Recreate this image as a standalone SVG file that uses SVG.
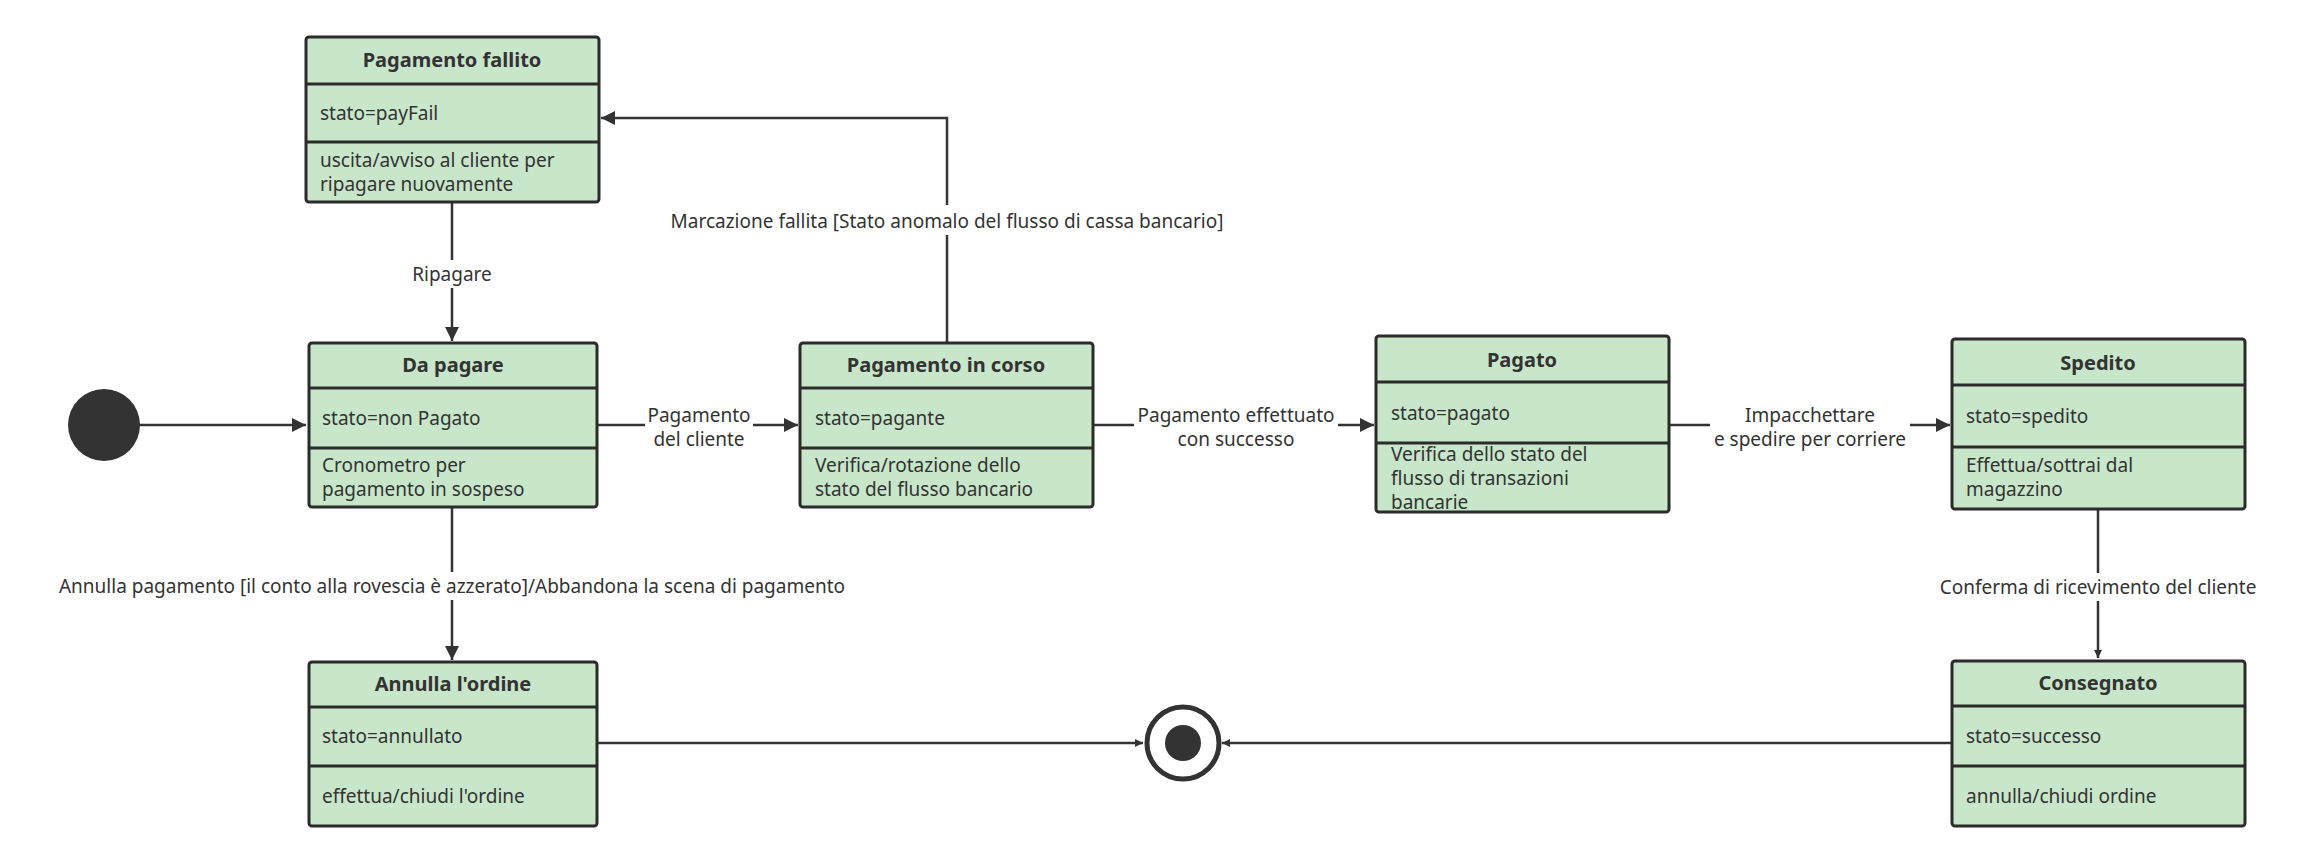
<svg xmlns="http://www.w3.org/2000/svg" width="2303" height="862" viewBox="0 0 2303 862">
<style>
.box{fill:#c8e6c9;stroke:#2b2b2b;stroke-width:3}
.div{stroke:#2b2b2b;stroke-width:3}
text{font-family:"Noto Sans","Open Sans","Liberation Sans",sans-serif;fill:#333;font-size:19px}
.t{font-weight:bold;font-size:20px;text-anchor:middle}
.lbl{text-anchor:middle}
.c{fill:none;stroke:#333;stroke-width:2.5}
</style>
<defs>
<marker id="a" viewBox="0 0 10 10" refX="10" refY="5" markerWidth="8" markerHeight="8" markerUnits="userSpaceOnUse" orient="auto"><path d="M0,0 L10,5 L0,10 z" fill="#333"/></marker>
<marker id="b" viewBox="0 0 10 10" refX="10" refY="5" markerWidth="20" markerHeight="14" markerUnits="userSpaceOnUse" orient="auto"><path d="M0,0 L10,5 L0,10 z" fill="#333"/></marker>
</defs>
<g id="connectors">
<path class="c" d="M139,425 H306" marker-end="url(#b)"/>
<path class="c" d="M597,425 H798" marker-end="url(#b)"/>
<rect x="645" y="398" width="108" height="50" fill="#fff"/>
<text class="lbl" x="699" y="422">Pagamento</text>
<text class="lbl" x="699" y="446">del cliente</text>
<path class="c" d="M947,343 V118 H601" marker-end="url(#b)"/>
<rect x="655" y="205" width="584" height="30" fill="#fff"/>
<text class="lbl" x="947" y="228">Marcazione fallita [Stato anomalo del flusso di cassa bancario]</text>
<path class="c" d="M452,202 V341" marker-end="url(#b)"/>
<rect x="408" y="260" width="88" height="28" fill="#fff"/>
<text class="lbl" x="452" y="281">Ripagare</text>
<path class="c" d="M452,507 V660" marker-end="url(#b)"/>
<rect x="40" y="572" width="826" height="28" fill="#fff"/>
<text class="lbl" x="452" y="593">Annulla pagamento [il conto alla rovescia è azzerato]/Abbandona la scena di pagamento</text>
<path class="c" d="M1093,425 H1374" marker-end="url(#b)"/>
<rect x="1134" y="398" width="204" height="50" fill="#fff"/>
<text class="lbl" x="1236" y="422">Pagamento effettuato</text>
<text class="lbl" x="1236" y="446">con successo</text>
<path class="c" d="M1669,425 H1950" marker-end="url(#b)"/>
<rect x="1710" y="398" width="200" height="50" fill="#fff"/>
<text class="lbl" x="1810" y="422">Impacchettare</text>
<text class="lbl" x="1810" y="446">e spedire per corriere</text>
<path class="c" d="M2098,509 V658" marker-end="url(#a)"/>
<rect x="1932" y="573" width="332" height="28" fill="#fff"/>
<text class="lbl" x="2098" y="594">Conferma di ricevimento del cliente</text>
<path class="c" d="M597,743 H1143" marker-end="url(#a)"/>
<path class="c" d="M1952,743 H1222" marker-end="url(#a)"/>
</g>
<g id="start"><circle cx="104" cy="425" r="36" fill="#333"/></g>
<g id="end"><circle cx="1183" cy="743" r="36" fill="#fff" stroke="#333" stroke-width="5"/><circle cx="1183" cy="743" r="18" fill="#333"/></g>
<g id="n-fallito">
<rect class="box" x="306" y="37" width="293" height="165" rx="3"/>
<line class="div" x1="306" y1="84" x2="599" y2="84"/><line class="div" x1="306" y1="142" x2="599" y2="142"/>
<text class="t" x="452" y="67">Pagamento fallito</text>
<text x="320" y="120">stato=payFail</text>
<text x="320" y="167">uscita/avviso al cliente per</text>
<text x="320" y="191">ripagare nuovamente</text>
</g>
<g id="n-dapagare">
<rect class="box" x="309" y="343" width="288" height="164" rx="3"/>
<line class="div" x1="309" y1="388" x2="597" y2="388"/><line class="div" x1="309" y1="448" x2="597" y2="448"/>
<text class="t" x="453" y="372">Da pagare</text>
<text x="322" y="425">stato=non Pagato</text>
<text x="322" y="472">Cronometro per</text>
<text x="322" y="496">pagamento in sospeso</text>
</g>
<g id="n-incorso">
<rect class="box" x="800" y="343" width="293" height="164" rx="3"/>
<line class="div" x1="800" y1="388" x2="1093" y2="388"/><line class="div" x1="800" y1="448" x2="1093" y2="448"/>
<text class="t" x="946" y="372">Pagamento in corso</text>
<text x="815" y="425">stato=pagante</text>
<text x="815" y="472">Verifica/rotazione dello</text>
<text x="815" y="496">stato del flusso bancario</text>
</g>
<g id="n-pagato">
<rect class="box" x="1376" y="336" width="293" height="176" rx="3"/>
<line class="div" x1="1376" y1="382" x2="1669" y2="382"/><line class="div" x1="1376" y1="443" x2="1669" y2="443"/>
<text class="t" x="1522" y="367">Pagato</text>
<text x="1391" y="420">stato=pagato</text>
<text x="1391" y="461">Verifica dello stato del</text>
<text x="1391" y="485">flusso di transazioni</text>
<text x="1391" y="509">bancarie</text>
</g>
<g id="n-spedito">
<rect class="box" x="1952" y="339" width="293" height="170" rx="3"/>
<line class="div" x1="1952" y1="385" x2="2245" y2="385"/><line class="div" x1="1952" y1="447" x2="2245" y2="447"/>
<text class="t" x="2098" y="370">Spedito</text>
<text x="1966" y="423">stato=spedito</text>
<text x="1966" y="472">Effettua/sottrai dal</text>
<text x="1966" y="496">magazzino</text>
</g>
<g id="n-annulla">
<rect class="box" x="309" y="662" width="288" height="164" rx="3"/>
<line class="div" x1="309" y1="707" x2="597" y2="707"/><line class="div" x1="309" y1="766" x2="597" y2="766"/>
<text class="t" x="453" y="691">Annulla l'ordine</text>
<text x="322" y="743">stato=annullato</text>
<text x="322" y="803">effettua/chiudi l'ordine</text>
</g>
<g id="n-consegnato">
<rect class="box" x="1952" y="661" width="293" height="165" rx="3"/>
<line class="div" x1="1952" y1="706" x2="2245" y2="706"/><line class="div" x1="1952" y1="766" x2="2245" y2="766"/>
<text class="t" x="2098" y="690">Consegnato</text>
<text x="1966" y="743">stato=successo</text>
<text x="1966" y="803">annulla/chiudi ordine</text>
</g>
</svg>
